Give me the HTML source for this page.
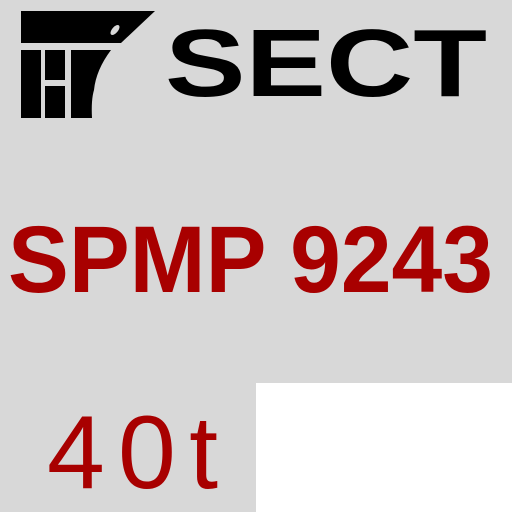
<!DOCTYPE html>
<html><head><style>html,body{margin:0;padding:0;background:#d8d8d8;overflow:hidden;width:512px;height:512px;}svg{display:block;}</style></head>
<body>
<svg width="512" height="512" viewBox="0 0 512 512" xmlns="http://www.w3.org/2000/svg">
<rect width="512" height="512" fill="#d8d8d8"/>
<rect x="256" y="383" width="256" height="129" fill="#fff"/>
<path d="M21 11 L155 11 L121 43 L21 43 Z" fill="#000"/>
<ellipse cx="115" cy="30" rx="3" ry="6" transform="rotate(40 115 30)" fill="#d8d8d8"/>
<rect x="21" y="50" width="20" height="68" fill="#000"/>
<rect x="45" y="50" width="20" height="30" fill="#000"/>
<rect x="45" y="86" width="20" height="32" fill="#000"/>
<path d="M71 50 L111 50 Q96 70 94 90 Q91 100 92 118 L71 118 Z" fill="#000"/>
<text x="165" y="96" font-family="Liberation Sans, sans-serif" font-weight="bold" font-size="96" textLength="322" lengthAdjust="spacingAndGlyphs" fill="#000">SECT</text>
<text x="8" y="292" font-family="Liberation Sans, sans-serif" font-weight="bold" font-size="95" textLength="485" lengthAdjust="spacingAndGlyphs" fill="#a80000">SPMP 9243</text>
<text x="47" y="488" font-family="Liberation Sans, sans-serif" font-size="104" textLength="171" lengthAdjust="spacing" fill="#a80000">40t</text>
</svg>
</body></html>
